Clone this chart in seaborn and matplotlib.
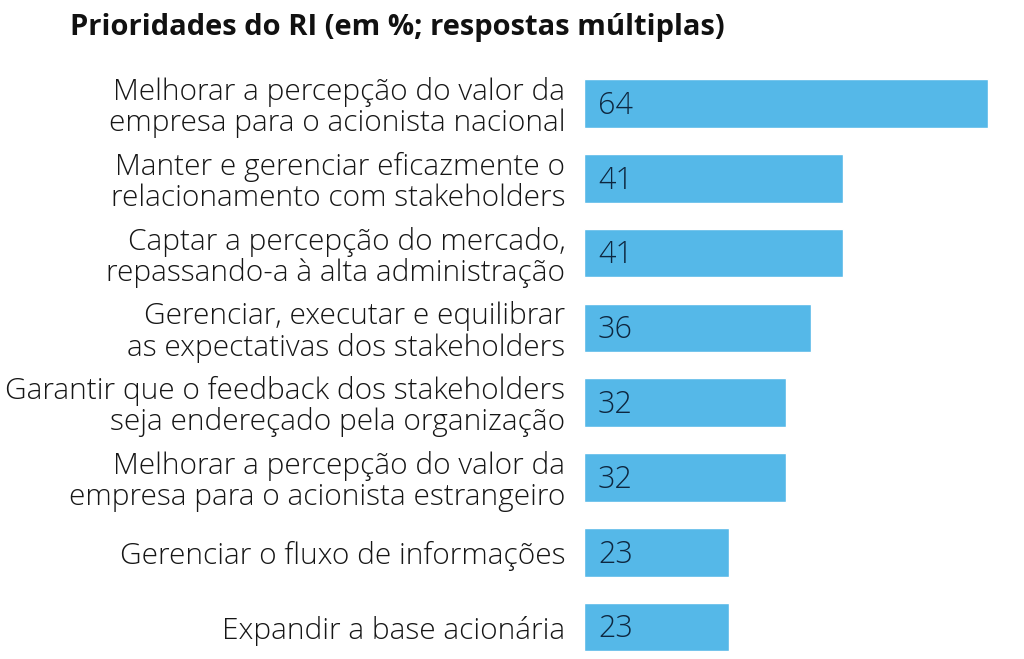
import pandas as pd
import matplotlib.pyplot as plt
import seaborn as sns

sns.set_style("white")
plt.rcParams['font.family'] = ['Open Sans', 'DejaVu Sans']

categories = [
    'Melhorar a percepção do valor da\nempresa para o acionista nacional',
    'Manter e gerenciar eficazmente o\nrelacionamento com stakeholders',
    'Captar a percepção do mercado,\nrepassando-a à alta administração',
    'Gerenciar, executar e equilibrar\nas expectativas dos stakeholders',
    'Garantir que o feedback dos stakeholders\nseja endereçado pela organização',
    'Melhorar a percepção do valor da\nempresa para o acionista estrangeiro',
    'Gerenciar o fluxo de informações',
    'Expandir a base acionária',
]
values = [64, 41, 41, 36, 32, 32, 23, 23]
ticks = [10, 20, 30, 40, 50, 60]

df = pd.DataFrame({'cat': categories, 'val': values})

bar_color = '#55b8e8'
text_color = '#161616'
num_color = '#0e2740'

fig = plt.figure(figsize=(10.24, 6.59), dpi=100)
ax = fig.add_axes([584 / 1024, 0.003, (994 - 584) / 1024, 0.908])

sns.barplot(data=df, x='val', y='cat', color=bar_color, saturation=1,
            width=0.65, ax=ax)

ax.set_xlim(0, 65)
ax.set_ylim(7.4, -0.6)
ax.set_xlabel('')
ax.set_ylabel('')
ax.set_xticks(ticks)
ax.set_xticklabels([])
ax.tick_params(axis='x', direction='out', length=4, color='#eeeeee', width=1)
ax.tick_params(axis='y', length=0, pad=13.5)
for lab in ax.get_yticklabels():
    lab.set_fontsize(21.5)
    lab.set_fontweight('light')
    lab.set_color(text_color)
    lab.set_linespacing(1.05)
    lab.set_horizontalalignment('right')

for i, v in enumerate(values):
    ax.text(2.2, i + 0.03, str(v), va='center', ha='left', fontsize=22,
            fontweight='light', color=num_color)

sns.despine(ax=ax, left=True, bottom=True)

fig.text(70 / 1024, 1 - 28 / 659, 'Prioridades do RI (em %; respostas múltiplas)',
         fontsize=21, fontweight='bold', color='#111111', va='center', ha='left')

plt.savefig('out.png', dpi=100)
